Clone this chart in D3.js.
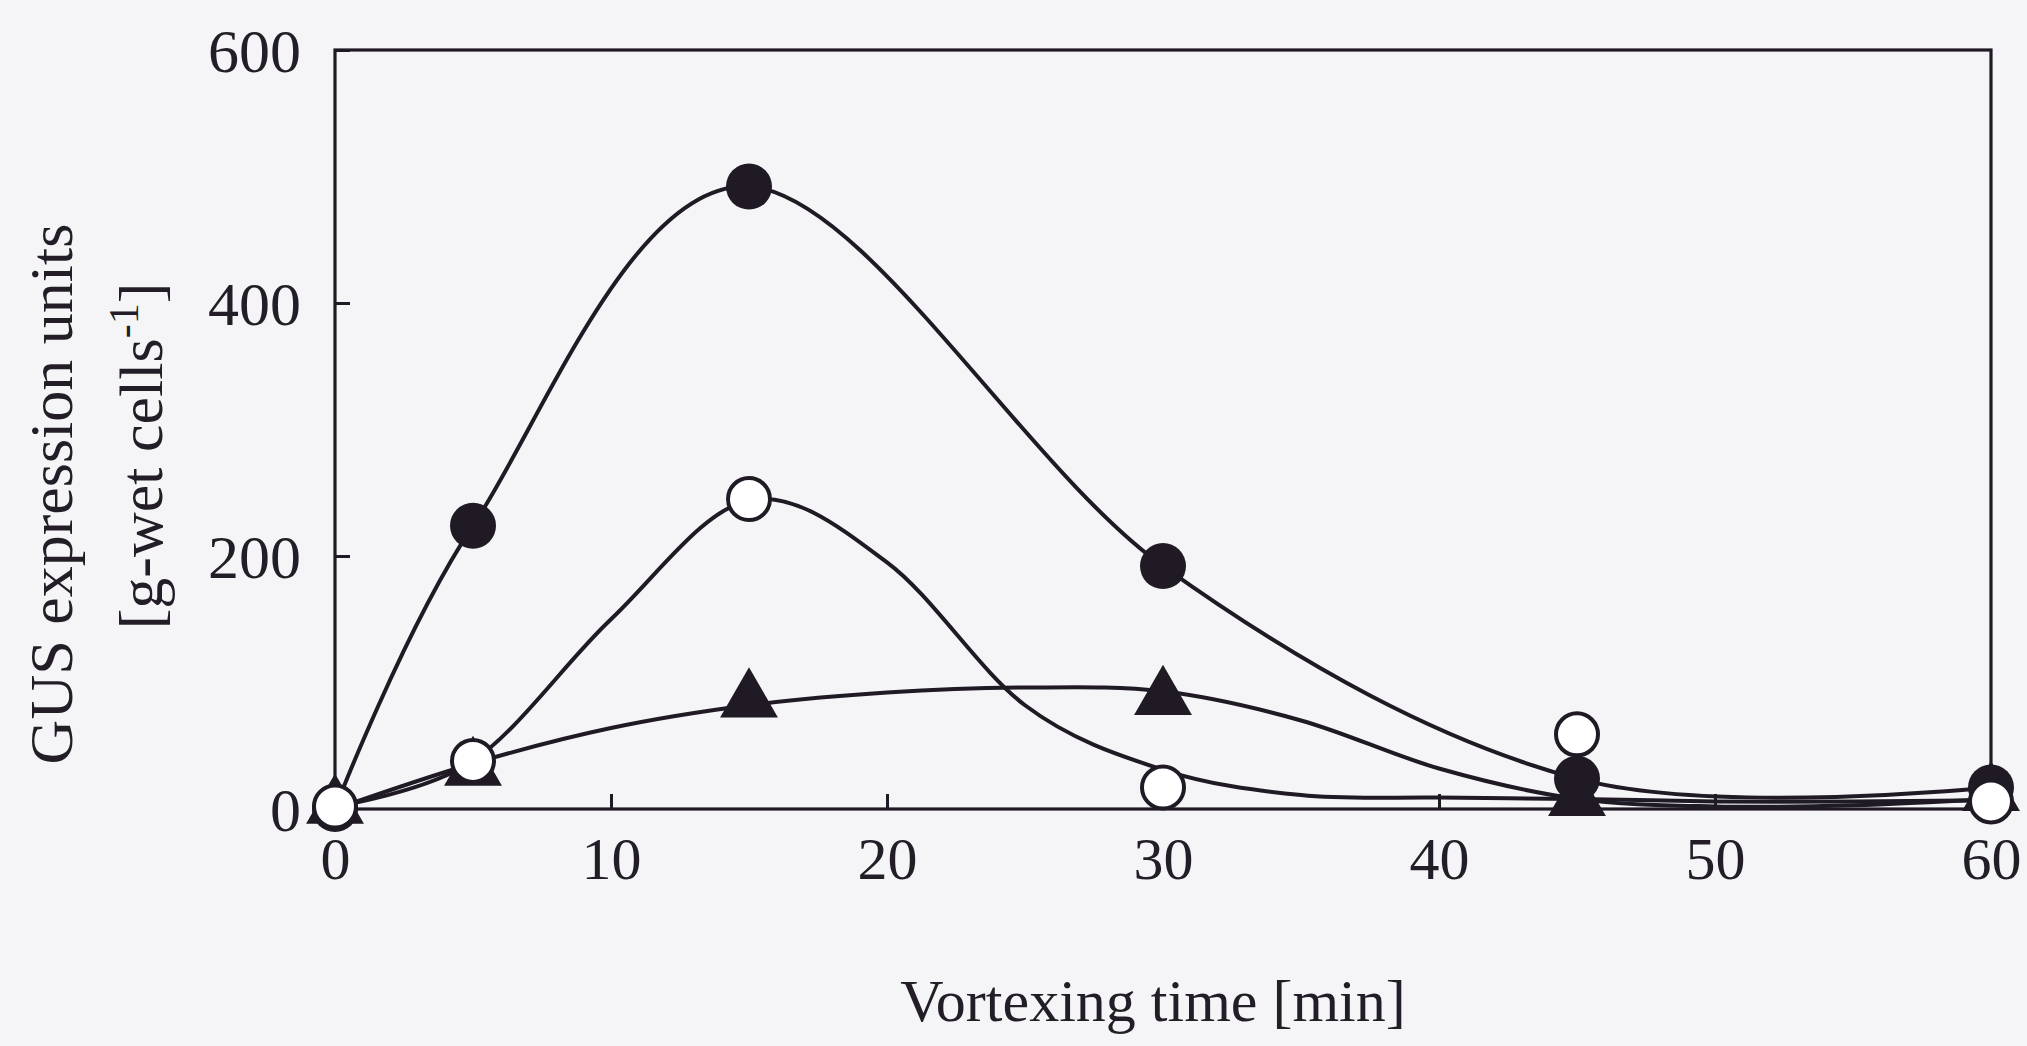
<!DOCTYPE html>
<html>
<head>
<meta charset="utf-8">
<script src="https://cdn.jsdelivr.net/npm/d3@7"></script>
<style>
  html, body { margin: 0; padding: 0; background: #f5f5f7; }
  svg { display: block; }
  text { font-family: "Liberation Serif", "Times New Roman", serif; fill: #221d26; }
</style>
</head>
<body>
<svg id="chart" width="2027" height="1046"></svg>
<script>
// ---- data ----
const times = [0, 5, 15, 30, 45, 60];
const filledVals = [0, 224, 492, 192, 24, 17];
const openVals = [2, 38, 245, 17, 59, 6];
const triangleVals = [0, 30, 84, 86, 6, 10];

// fitted (hand-drawn) curves for open circles and triangles, sampled every 5 min
const curveX = [0, 5, 10, 15, 20, 25, 30, 35, 40, 45, 50, 55, 60];
const openCurveY = [2, 38, 150, 244, 195, 82, 31, 11, 9, 8, 6, 6, 7];
const triCurveY = [0, 36, 64, 82, 92, 96, 93, 70, 32, 8, 2, 3, 8];

const xTicks = [0, 10, 20, 30, 40, 50, 60];
const yTicks = [0, 200, 400, 600];
const xTitle = "Vortexing time [min]";
const yTitle1 = "GUS expression units";
const yTitle2 = "[g-wet cells";

// ---- layout ----
const ink = "#1f1a24";
const svg = d3.select("#chart");
const x = d3.scaleLinear().domain([0, 60]).range([335, 1991]);
const y = d3.scaleLinear().domain([0, 600]).range([809, 50]);

const g = svg.append("g");

// frame
g.append("rect")
  .attr("x", x(0)).attr("y", y(600))
  .attr("width", x(60) - x(0)).attr("height", y(0) - y(600))
  .attr("fill", "none").attr("stroke", ink).attr("stroke-width", 3.2);

// axes
const xAxis = d3.axisBottom(x).tickValues(xTicks).tickSize(-15).tickPadding(0).tickFormat(d3.format("d"));
const gx = g.append("g").attr("transform", `translate(0,${y(0)})`).call(xAxis);
gx.select(".domain").remove();
gx.selectAll(".tick line").attr("stroke", ink).attr("stroke-width", 3);
gx.selectAll(".tick text").attr("font-size", 60).attr("dy", null).attr("y", 70)
  .attr("fill", ink).style("font-family", '"Liberation Serif", serif');

const yAxis = d3.axisLeft(y).tickValues(yTicks).tickSize(-15).tickPadding(0).tickFormat(d3.format("d"));
const gy = g.append("g").attr("transform", `translate(${x(0)},0)`).call(yAxis);
gy.select(".domain").remove();
gy.selectAll(".tick line").attr("stroke", ink).attr("stroke-width", 3);
gy.selectAll(".tick text").attr("font-size", 62).attr("x", -34).attr("dy", "0.34em")
  .attr("fill", ink).style("font-family", '"Liberation Serif", serif');

// curves
const smooth = d3.line().x(d => x(d[0])).y(d => y(d[1])).curve(d3.curveCardinal.tension(0));
const filledPts = times.map((t, i) => [t, filledVals[i]]);
const openCurve = curveX.map((t, i) => [t, openCurveY[i]]);
const triCurve = curveX.map((t, i) => [t, triCurveY[i]]);

[triCurve, openCurve, filledPts].forEach(pts => {
  g.append("path").datum(pts).attr("d", smooth)
    .attr("fill", "none").attr("stroke", ink).attr("stroke-width", 4);
});

// markers: triangles, then filled circles, then open circles
const tri = d3.symbol().type(d3.symbolTriangle).size(1450);
g.selectAll(".tri").data(times.map((t, i) => [t, triangleVals[i]])).enter()
  .append("path").attr("class", "tri")
  .attr("d", tri)
  .attr("transform", d => `translate(${x(d[0])},${y(d[1]) - 2})`)
  .attr("fill", ink);

g.selectAll(".fc").data(filledPts).enter()
  .append("circle").attr("class", "fc")
  .attr("cx", d => x(d[0])).attr("cy", d => y(d[1])).attr("r", 23)
  .attr("fill", ink);

g.selectAll(".oc").data(times.map((t, i) => [t, openVals[i]])).enter()
  .append("circle").attr("class", "oc")
  .attr("cx", d => x(d[0])).attr("cy", d => y(d[1])).attr("r", 21)
  .attr("fill", "#ffffff").attr("stroke", ink).attr("stroke-width", 4);

// titles
g.append("text").attr("x", 1153).attr("y", 1021).attr("text-anchor", "middle")
  .attr("font-size", 60).text(xTitle);

g.append("text").attr("transform", "translate(72,494) rotate(-90)")
  .attr("text-anchor", "middle").attr("font-size", 62).text(yTitle1);

const t2 = g.append("text").attr("transform", "translate(162,456) rotate(-90)")
  .attr("text-anchor", "middle").attr("font-size", 62);
t2.append("tspan").text(yTitle2);
t2.append("tspan").attr("font-size", 42).attr("dy", -24).text("-1");
t2.append("tspan").attr("dy", 24).text("]");
</script>
</body>
</html>
